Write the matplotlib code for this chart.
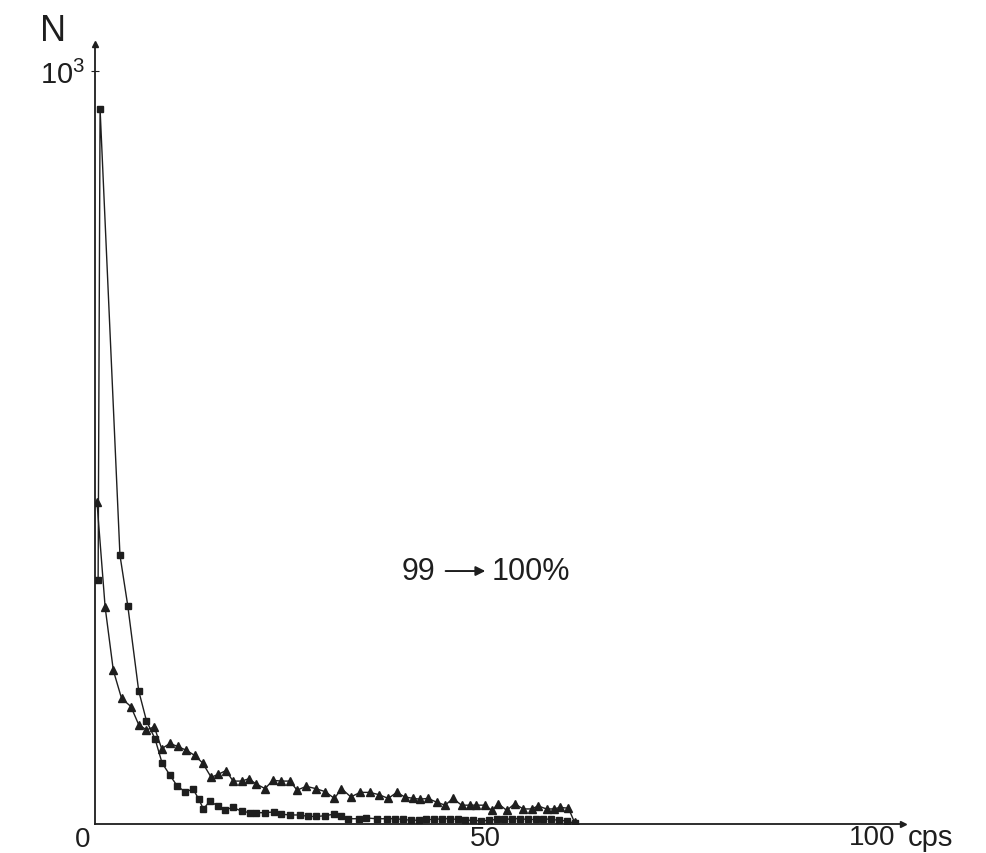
import matplotlib
matplotlib.use("Agg")
import matplotlib.pyplot as plt

plt.rcParams["font.family"] = ["Liberation Sans", "DejaVu Sans"]
plt.rcParams["mathtext.fontset"] = "custom"
plt.rcParams["mathtext.rm"] = "Liberation Sans"
plt.rcParams["mathtext.it"] = "Liberation Sans:italic"

# ===== Data (x in cps, y in counts N) =====
sq_x = [0.4, 0.65, 3.2, 4.2, 5.6, 6.6, 7.7, 8.6, 9.6, 10.5,
        11.5, 12.6, 13.3, 13.9, 14.7, 15.8, 16.7, 17.7, 18.8, 19.9,
        20.7, 21.8, 22.9, 23.9, 25.0, 26.3, 27.3, 28.4, 29.5, 30.6,
        31.6, 32.5, 33.8, 34.8, 36.1, 37.4, 38.5,
        39.5, 40.5, 41.5, 42.5, 43.5, 44.5, 45.5, 46.5, 47.5, 48.5, 49.5,
        50.5, 51.5, 52.5, 53.5, 54.5, 55.5, 56.5, 57.5, 58.5, 59.5, 60.5,
        61.5]
sq_y = [324, 950, 357, 290, 177, 137, 113, 81, 65, 51,
        43, 46, 33, 20, 30, 24, 19, 22, 17, 15,
        15, 15, 16, 13, 12, 12, 10, 10, 11, 13,
        11, 7, 7, 8, 7, 7, 7,
        6, 5, 5, 6, 6, 7, 7, 6, 5, 5, 4,
        5, 6, 6, 7, 7, 6, 6, 7, 6, 5, 4,
        1]

tr_x = [0.25, 1.3, 2.35, 3.4, 4.6, 5.6, 6.6, 7.6, 8.55, 9.6,
        10.6, 11.7, 12.8, 13.8, 14.9, 15.8, 16.8, 17.7, 18.8, 19.7,
        20.7, 21.8, 22.8, 23.9, 25.0, 25.9, 27.1, 28.3, 29.5, 30.7,
        31.6, 32.8, 34.0, 35.2, 36.4, 37.6, 38.7, 39.7, 40.8, 41.7,
        42.7, 43.8, 44.9, 45.9, 47.0, 48.1, 48.9, 50.0, 50.9, 51.7,
        52.8, 53.8, 54.9, 56.0, 56.8, 57.9, 58.8, 59.6, 60.7, 61.5]
tr_y = [428, 288, 204, 167, 156, 132, 125, 129, 100, 107,
        103, 98, 91, 81, 62, 66, 71, 57, 57, 60,
        53, 47, 58, 57, 57, 45, 50, 47, 43, 34,
        47, 36, 42, 42, 39, 34, 42, 36, 34, 33,
        34, 29, 25, 34, 25, 25, 25, 25, 18, 27,
        18, 27, 20, 20, 24, 20, 20, 22, 21, 2]

X_TICKS = [0, 50, 100]
X_LABELS = ["0", "50", "100"]
Y_TICKS = [1000]
Y_LABELS = [r"$10^3$"]

INK = "#1e1e1e"

# ===== Figure =====
fig = plt.figure(figsize=(9.86, 8.54), dpi=100)
ax = fig.add_axes([95 / 986, 29 / 854, 808 / 986, 780 / 854])
ax.set_xlim(0, 103.6)
ax.set_ylim(0, 1036)

ax.plot(tr_x, tr_y, color=INK, lw=1.0, marker="^", ms=5.5, mfc=INK, mec=INK)
ax.plot(sq_x, sq_y, color=INK, lw=1.0, marker="s", ms=3.8, mfc=INK, mec=INK)

# axes look: only left/bottom lines with arrow heads
for s in ("top", "right"):
    ax.spines[s].set_visible(False)
for s in ("left", "bottom"):
    ax.spines[s].set_color(INK)
    ax.spines[s].set_linewidth(1.3)
ax.plot(1, 0, ">", color=INK, ms=5, transform=ax.transAxes, clip_on=False)
ax.plot(0, 1, "^", color=INK, ms=5, transform=ax.transAxes, clip_on=False)

# x labels sit by hand (no tick marks in the original)
ax.set_xticks([])
ax.text(-1.6, -20, X_LABELS[0], fontsize=20, ha="center", va="center", color=INK)
ax.text(X_TICKS[1], -18.6, X_LABELS[1], fontsize=20, ha="center", va="center",
        color=INK)
ax.text(X_TICKS[2] - 0.3, -17.5, X_LABELS[2], fontsize=20, ha="center",
        va="center", color=INK)
ax.text(104.2, -17.5, "cps", fontsize=21, ha="left", va="center", color=INK)

ax.set_yticks(Y_TICKS)
ax.set_yticklabels(Y_LABELS, fontsize=21)
ax.tick_params(axis="y", direction="inout", length=6, pad=4, colors=INK)

ax.text(-5.4, 1054, "N", fontsize=26, ha="center", va="center", color=INK)

# "99 -> 100%" note
ax.text(43.6, 336, "99", fontsize=22, ha="right", va="center", color=INK)
ax.annotate("", xy=(50.4, 336), xytext=(44.6, 336),
            arrowprops=dict(arrowstyle="-|>", color=INK, lw=1.4,
                            mutation_scale=14))
ax.text(50.8, 336, "100%", fontsize=22, ha="left", va="center", color=INK)

fig.savefig("out.png", dpi=100)
